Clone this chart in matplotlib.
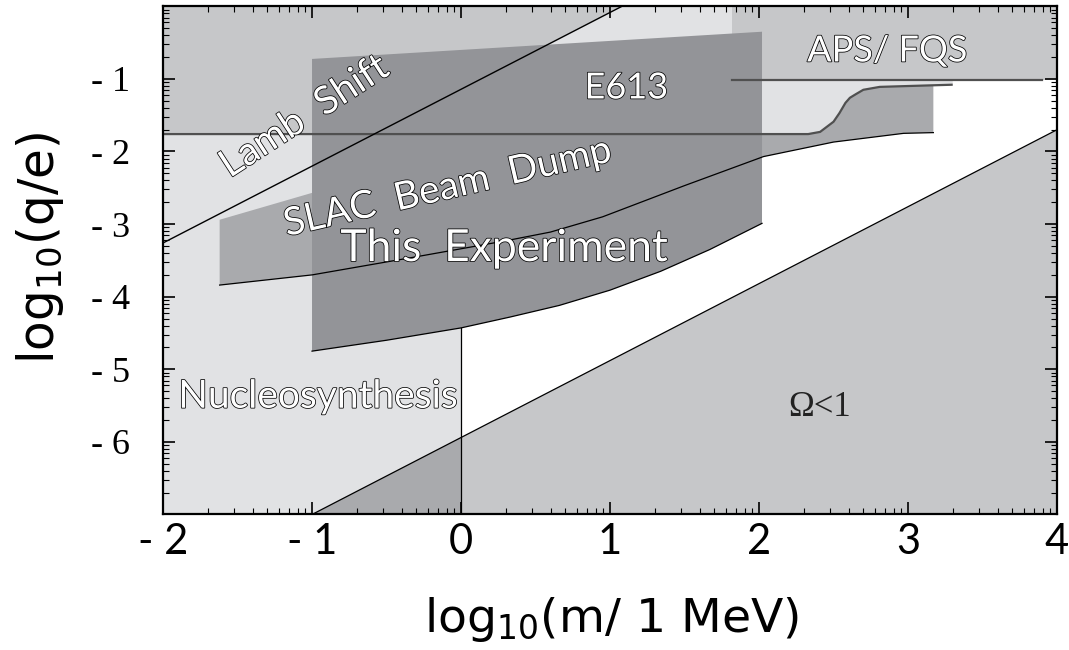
import numpy as np
import matplotlib.pyplot as plt
import matplotlib.patheffects as pe
from matplotlib.ticker import FixedLocator, FuncFormatter

# shades used for the excluded regions
light = '#e1e2e4'
medium = '#c6c7c9'
slac_grey = '#a9aaad'
dark = '#939498'

# Lamb shift bound (straight line)
lamb_x = [-2.0, 1.08]
lamb_y = [-3.26, 0.0]

# Omega < 1 bound (straight line)
omega_x = [-1.0, 4.0]
omega_y = [-7.0, -1.70]

# nucleosynthesis excludes m < 1 MeV
nucleo_xmax = 0.0

# upper accelerator band with its step near 300 MeV
band_x = [-2.0, 2.33, 2.41, 2.50, 2.54, 2.58, 2.61, 2.65, 2.70, 2.81, 2.97, 3.30]
band_y = [-1.76, -1.76, -1.73, -1.59, -1.47, -1.33, -1.26, -1.21, -1.15, -1.11, -1.10, -1.08]

# SLAC beam dump region
slac_low_x = [-1.62, -1.0, -0.3, 0.3, 0.6, 0.95, 1.5, 2.03, 2.5, 2.97, 3.17]
slac_low_y = [-3.84, -3.70, -3.45, -3.23, -3.11, -2.90, -2.47, -2.07, -1.87, -1.75, -1.74]
slac_top_x = [-1.62, -1.0, 0.36]
slac_top_y = [-2.94, -2.57, -1.76]

# this experiment
box_top_x = [-1.0, 2.02]
box_top_y = [-0.725, -0.35]
box_low_x = [-1.0, -0.5, 0.0, 0.33, 0.66, 1.0, 1.34, 1.67, 2.02]
box_low_y = [-4.75, -4.60, -4.43, -4.28, -4.12, -3.91, -3.65, -3.35, -2.99]

# APS / FQS
aps_x = [1.82, 4.0]
aps_y = [-1.01, 0.0]
aps_line_end = 3.90

xmin, xmax, ymin, ymax = -2, 4, -7, 0

fig = plt.figure(figsize=(10.69, 6.5), dpi=100)
ax = fig.add_axes([0.1525, 0.2085, 0.8363, 0.7818])
ax.set_xlim(xmin, xmax)
ax.set_ylim(ymin, ymax)

slope = (lamb_y[1] - lamb_y[0]) / (lamb_x[1] - lamb_x[0])
lamb_y_at0 = lamb_y[0] + slope * (nucleo_xmax - lamb_x[0])
omega_slope = (omega_y[1] - omega_y[0]) / (omega_x[1] - omega_x[0])
omega_y_at0 = omega_y[0] + omega_slope * (nucleo_xmax - omega_x[0])

# nucleosynthesis
ax.fill([xmin, nucleo_xmax, nucleo_xmax, xmin], [ymin, ymin, ymax, ymax], color=light, lw=0)
# upper band
ax.fill(band_x + [band_x[-1], band_x[0]], band_y + [ymax, ymax], color=light, lw=0)
# band overlapping nucleosynthesis or lamb shift
ax.fill([xmin, nucleo_xmax, nucleo_xmax, lamb_x[1], xmin],
        [band_y[0], band_y[0], lamb_y_at0, ymax, ymax], color=medium, lw=0)
# Omega < 1
ax.fill([omega_x[0], omega_x[1], xmax], [omega_y[0], omega_y[1], ymin], color=medium, lw=0)
ax.fill([omega_x[0], nucleo_xmax, nucleo_xmax], [ymin, omega_y_at0, ymin], color=slac_grey, lw=0)

# SLAC beam dump
top_right_y = np.interp(slac_low_x[-1], band_x, band_y)
bx = [x for x in band_x if slac_top_x[-1] < x < slac_low_x[-1]]
by = [y for x, y in zip(band_x, band_y) if slac_top_x[-1] < x < slac_low_x[-1]]
poly_x = slac_top_x + bx + [slac_low_x[-1]] + slac_low_x[::-1]
poly_y = slac_top_y + by + [top_right_y] + slac_low_y[::-1]
ax.fill(poly_x, poly_y, color=slac_grey, lw=0)

# APS / FQS
ax.fill([aps_x[0], aps_x[1], aps_x[1], aps_x[0]], [aps_y[0], aps_y[0], aps_y[1], aps_y[1]],
        color=medium, lw=0)

# this experiment
ax.fill(box_top_x + box_low_x[::-1], box_top_y + box_low_y[::-1], color=dark, lw=0)

# boundary lines
ax.plot(band_x, band_y, color='#505050', lw=1.6, solid_capstyle='butt')
ax.plot([aps_x[0], aps_line_end], [aps_y[0], aps_y[0]], color='#505050', lw=1.6)
ax.plot(lamb_x, lamb_y, color='k', lw=1.0)
ax.plot(omega_x, omega_y, color='k', lw=0.9)
ax.plot(slac_low_x, slac_low_y, color='k', lw=0.9)
ax.plot(box_low_x, box_low_y, color='k', lw=0.9)
ax.plot([nucleo_xmax, nucleo_xmax], [ymin, np.interp(nucleo_xmax, box_low_x, box_low_y)],
        color='k', lw=0.9)

# labels inside the plot: hollow lettering
hollow = [pe.withStroke(linewidth=1.1, foreground='k')]
txt = dict(color='white', family='Lato', fontweight='normal', path_effects=hollow)
ax.text(-1.05, -1.52, 'Lamb  Shift', fontsize=28, rotation=33, ha='center', va='center', **txt)
ax.text(-0.09, -2.50, 'SLAC  Beam  Dump', fontsize=28, rotation=13, ha='center', va='center', **txt)
ax.text(0.29, -3.51, 'This  Experiment', fontsize=32, ha='center', va='baseline', **txt)
ax.text(1.11, -1.27, 'E613', fontsize=26, ha='center', va='baseline', **txt)
ax.text(2.86, -0.76, 'APS/ FQS', fontsize=26, ha='center', va='baseline', **txt)
ax.text(-0.96, -5.53, 'Nucleosynthesis', fontsize=28, ha='center', va='baseline', **txt)
ax.text(2.41, -5.645, 'Ω<1', fontsize=25, ha='center', va='baseline',
        color='#222222', family='Liberation Serif')

# ticks
ax.xaxis.set_major_locator(FixedLocator(range(xmin, xmax + 1)))
ax.xaxis.set_minor_locator(FixedLocator([n + np.log10(k) for n in range(xmin, xmax) for k in range(2, 10)]))
ax.yaxis.set_major_locator(FixedLocator(range(ymin, ymax + 1)))
ax.yaxis.set_minor_locator(FixedLocator([n + np.log10(k) for n in range(ymin, ymax) for k in range(2, 10)]))

def fmt_x(v, pos):
    v = int(round(v))
    return f'- {abs(v)}' if v < 0 else str(v)

def fmt_y(v, pos):
    v = int(round(v))
    if v in (ymin, ymax):
        return ''
    return f'- {abs(v)}'

ax.xaxis.set_major_formatter(FuncFormatter(fmt_x))
ax.yaxis.set_major_formatter(FuncFormatter(fmt_y))
ax.tick_params(which='both', direction='in', top=True, right=True, color='k')
ax.tick_params(which='major', length=8.5, width=1.2)
ax.tick_params(which='minor', length=4.2, width=0.8)
ax.tick_params(axis='x', which='major', labelsize=30, pad=6)
ax.tick_params(axis='y', which='major', labelsize=26, pad=24)
for lab in ax.get_xticklabels():
    lab.set_family('Lato')
for lab in ax.get_yticklabels():
    lab.set_family('Liberation Serif')

for sp in ax.spines.values():
    sp.set_linewidth(1.6)

fig.text(0.5715, 1 - 620 / 650, r'log$_{10}$(m/ 1 MeV)', fontsize=34, family='DejaVu Sans',
         ha='center', va='center')
fig.text(40 / 1069, 1 - 248 / 650, r'log$_{10}$(q/e)', fontsize=35, family='DejaVu Sans',
         ha='center', va='center', rotation=90)

fig.savefig('out.png', dpi=100)
